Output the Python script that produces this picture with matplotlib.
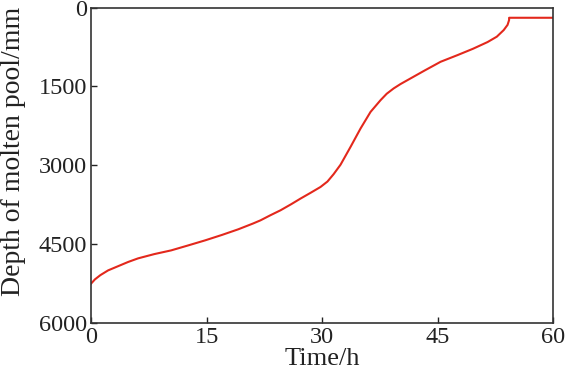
import matplotlib
matplotlib.use('Agg')
import matplotlib.pyplot as plt

# Depth of molten pool vs time
time_h = [0.0, 0.5, 1.2, 2.2, 3.5, 4.8, 6.1, 8.2, 10.4, 12.6, 14.8, 17.0,
          19.1, 21.0, 22.0, 23.3, 24.6, 26.0, 27.2, 28.5, 29.8, 30.7, 31.5,
          32.4, 33.7, 35.0, 36.3, 37.6, 38.4, 39.3, 40.2, 41.1, 43.3, 45.4,
          47.6, 49.6, 51.5, 52.7, 53.6, 54.1, 54.3, 54.3, 57.0, 60.0]
depth_mm = [5250, 5170, 5090, 5000, 4920, 4840, 4771, 4690, 4619, 4525, 4429,
            4325, 4219, 4110, 4048, 3950, 3857, 3740, 3634, 3525, 3413, 3310,
            3170, 2990, 2651, 2301, 1985, 1762, 1640, 1539, 1455, 1381, 1200,
            1032, 905, 785, 657, 555, 429, 330, 238, 195, 195, 195]

x_ticks = [0, 15, 30, 45, 60]
y_ticks = [0, 1500, 3000, 4500, 6000]

plt.rcParams['font.family'] = ['Liberation Serif', 'DejaVu Serif']

fig = plt.figure(figsize=(5.66, 3.76), dpi=100)
ax = fig.add_axes([0.161, 0.141, 0.816, 0.839])

ax.plot(time_h, depth_mm, color='#e3281c', linewidth=1.5)

ax.set_xlim(0, 60)
ax.set_ylim(6000, 0)
ax.set_xticks(x_ticks)
ax.set_yticks(y_ticks)
ax.tick_params(direction='in', length=4, width=1, labelsize=17.5,
               colors='#222222', pad=3)
for s in ax.spines.values():
    s.set_color('#333333')
    s.set_linewidth(1.2)

ax.set_xlabel('Time/h', fontsize=19, color='#222222', labelpad=0)
ax.set_ylabel('Depth of molten pool/mm', fontsize=20, color='#222222')
ax.yaxis.set_label_coords(-0.142, 0.543)

fig.savefig('out.png', dpi=100)
